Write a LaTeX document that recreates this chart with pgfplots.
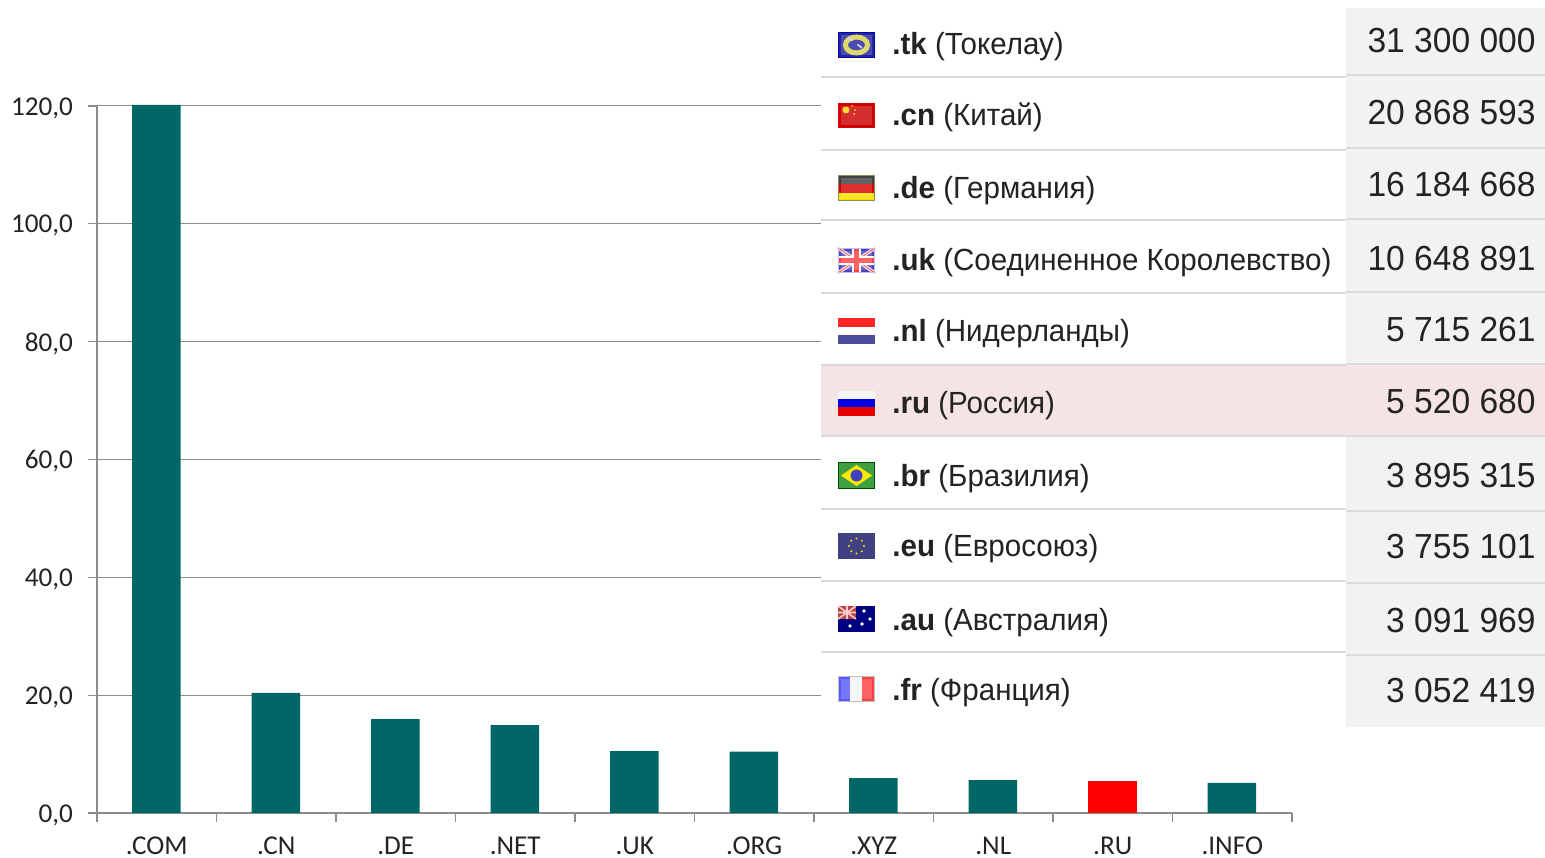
\documentclass[border=0pt]{standalone}
\usepackage{pgfplots}
\pgfplotsset{compat=1.18}
\usepackage{fontspec}
\setmainfont{Carlito}
\newfontfamily\tabfont[FakeStretch=0.965]{Liberation Sans}
\definecolor{barteal}{RGB}{0,102,102}
\definecolor{axgray}{RGB}{140,140,140}
\definecolor{sepgray}{RGB}{218,218,218}
\definecolor{colgray}{RGB}{242,242,242}
\definecolor{rurow}{RGB}{245,228,228}
\definecolor{ink}{RGB}{35,35,35}
\newcommand{\lab}[3]{\node[anchor=base west,inner sep=0pt,text=ink,font=\tabfont\fontsize{15.3}{18}\selectfont] at (892,#1) {\textbf{#2} (#3)};}
\newcommand{\val}[2]{\node[anchor=base east,inner sep=0pt,text=ink,font=\tabfont\fontsize{17.4}{19}\selectfont] at (1536,#1) {#2};}
% gloss and frame of a flag: top y, bottom y, frame colour
\newcommand{\gloss}[3]{\fill[white,opacity=0.18] (841,#1+3) rectangle (872,#2-3);\draw[#3,line width=0.7pt] (838.5,#1+.5) rectangle (874.5,#2-.5);}
\begin{document}
\begin{tikzpicture}[x=0.5pt,y=0.5pt]
\path[use as bounding box] (0,0) rectangle (1545,857);
\begin{axis}[
  at={(48.5pt,22pt)},anchor=south west,
  scale only axis,width=597.5pt,height=353.5pt,
  xmin=-0.5,xmax=9.5,ymin=0,ymax=120,
  axis x line=bottom,axis y line=left,
  axis line style={-,axgray,line width=0.6pt},
  ymajorgrids,grid style={axgray,line width=0.5pt},
  ytick={0,20,40,60,80,100,120},
  xtick={0,1,2,3,4,5,6,7,8,9},
  xticklabels={.COM,.CN,.DE,.NET,.UK,.ORG,.XYZ,.NL,.RU,.INFO},
  minor xtick={-0.5,0.5,1.5,2.5,3.5,4.5,5.5,6.5,7.5,8.5,9.5},
  tick align=outside,
  major tick length=4.5pt,
  minor tick length=4.5pt,
  xtick style={draw=none},
  minor x tick style={draw=axgray,line width=0.6pt},
  ytick style={draw=axgray,line width=0.6pt},
  tick label style={font=\fontsize{13.6}{16}\selectfont,text=ink},
  yticklabel style={xshift=-4pt,yshift=-1pt,/pgf/number format/.cd,fixed,fixed zerofill,precision=1,use comma,assume math mode=true},
  xticklabel style={inner sep=0pt,text height=9pt,text depth=1pt,yshift=-7.25pt},
  clip=false,
  ybar,bar shift=-0.2pt,bar width=24.2pt,
]
\addplot[fill=barteal,draw=none] coordinates {(0,120.2)(1,20.4)(2,15.95)(3,14.9)(4,10.5)(5,10.4)(6,5.9)(7,5.6)(9,5.1)};
\addplot[fill=red,draw=none] coordinates {(8,5.4)};
\end{axis}
\begin{scope}[shift={(0,857)},y=-0.5pt]
\fill[white] (821,0) rectangle (1345,727);
\fill[colgray] (1346,8) rectangle (1545,727);
\fill[rurow] (821,366) rectangle (1545,436);
\foreach \y in {77,150,220,293,365,436,509,581,652} \draw[sepgray,line width=1.2pt] (821,\y) -- (1346,\y);
\foreach \y in {75,148,219,292,364,436,511,583,655} \draw[sepgray,line width=1.2pt] (1346,\y) -- (1545,\y);
% tk
\fill[blue!55!black!85!white] (838,32) rectangle (875,58);
\draw[yellow!65!gray,line width=2.5pt] (856.5,45) ellipse (11 and 8);
\draw[white!80!blue,line width=0.8pt,dashed] (848,37) -- (862,48);
\gloss{32}{58}{blue!70!black}
% cn
\fill[red!80!black] (838,103) rectangle (875,128);
\fill[yellow!70!orange] (846,110) circle (3.5);
\foreach \p/\q in {852/106,855/110,854/114} \fill[yellow!70!orange] (\p,\q) circle (1);
\gloss{103}{128}{red!85!black}
% de
\fill[black!75] (838,175) rectangle (875,184);
\fill[red!85!black] (838,184) rectangle (875,193);
\fill[yellow!85!orange] (838,193) rectangle (875,201);
\gloss{175}{201}{black!45!olive!70}
% uk
\fill[blue!45!gray] (838,248) rectangle (875,273);
\draw[white,line width=1.6pt] (838,248) -- (875,273) (838,273) -- (875,248);
\draw[red!60,line width=0.7pt] (838,248) -- (875,273) (838,273) -- (875,248);
\fill[white] (852,248) rectangle (861,273);
\fill[white] (838,256) rectangle (875,265);
\fill[red!75] (854,248) rectangle (859,273);
\fill[red!75] (838,258) rectangle (875,263);
\gloss{248}{273}{blue!25!white}
% nl
\fill[red!85] (838,318) rectangle (875,327);
\fill[white] (838,327) rectangle (875,335);
\fill[blue!45!black!70!white] (838,335) rectangle (875,344);
% ru
\fill[white!92!gray] (838,391) rectangle (875,399);
\fill[blue!90!black] (838,399) rectangle (875,407);
\fill[red!90!black] (838,407) rectangle (875,416);
% br
\fill[green!50!black!75!white] (838,462) rectangle (875,489);
\fill[yellow!90!orange] (841,475.5) -- (856.5,465) -- (872,475.5) -- (856.5,486) -- cycle;
\fill[blue!50!gray] (856.5,475.5) circle (6);
\draw[green!30!black,line width=0.7pt] (838.5,462.5) rectangle (874.5,488.5);
% eu
\fill[blue!35!black!75!white] (838,533) rectangle (875,559);
\foreach \a in {0,45,...,315} \fill[yellow!80!orange] ({856.5+7.5*cos(\a)},{546+7.5*sin(\a)}) circle (1.1);
% au
\fill[blue!50!black] (838,606) rectangle (875,632);
\fill[red!45!gray] (838,606) rectangle (856,619);
\draw[white!80!red,line width=0.8pt] (838,606) -- (856,619) (838,619) -- (856,606) (847,606) -- (847,619) (838,612.5) -- (856,612.5);
\foreach \p/\q in {864/611,870/619,862/624,850/626} \fill[white] (\p,\q) circle (1.8);
% fr
\fill[blue!65!white] (838,676) rectangle (850,702);
\fill[black!4] (850,676) rectangle (862,702);
\fill[red!75!white] (862,676) rectangle (875,702);
\gloss{676}{702}{black!25}
\lab{55}{.tk}{Токелау}
\lab{126}{.cn}{Китай}
\lab{199}{.de}{Германия}
\lab{271}{.uk}{Соединенное Королевство}
\lab{342}{.nl}{Нидерланды}
\lab{414}{.ru}{Россия}
\lab{487}{.br}{Бразилия}
\lab{557}{.eu}{Евросоюз}
\lab{630}{.au}{Австралия}
\lab{700}{.fr}{Франция}
\val{53}{31 300 000}
\val{125}{20 868 593}
\val{197}{16 184 668}
\val{271}{10 648 891}
\val{342}{5 715 261}
\val{414}{5 520 680}
\val{488}{3 895 315}
\val{558}{3 755 101}
\val{632}{3 091 969}
\val{702}{3 052 419}
\end{scope}
\end{tikzpicture}
\end{document}
